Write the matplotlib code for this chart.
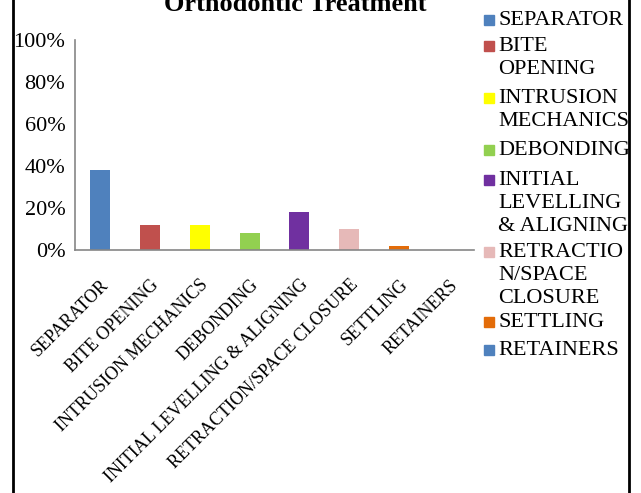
import matplotlib.pyplot as plt
from matplotlib.ticker import PercentFormatter
from matplotlib.lines import Line2D

categories = ["SEPARATOR", "BITE OPENING", "INTRUSION MECHANICS", "DEBONDING",
              "INITIAL LEVELLING & ALIGNING", "RETRACTION/SPACE CLOSURE",
              "SETTLING", "RETAINERS"]
values = [0.38, 0.12, 0.12, 0.08, 0.18, 0.10, 0.02, 0.0]
legend_labels = ["SEPARATOR", "BITE\nOPENING", "INTRUSION\nMECHANICS", "DEBONDING",
                 "INITIAL\nLEVELLING\n& ALIGNING", "RETRACTIO\nN/SPACE\nCLOSURE",
                 "SETTLING", "RETAINERS"]
colors = ["#4F81BD", "#C0504D", "#FFFF00", "#92D050", "#7030A0", "#E6B9B8",
          "#E36C09", "#4F81BD"]
# pixel rows (from top) of the first line of each legend entry
legend_rows = [20, 46, 98, 150, 180, 252, 322, 350]

plt.rcParams['font.family'] = ['Liberation Serif', 'DejaVu Serif']

W, H = 641, 493
fig = plt.figure(figsize=(W / 100, H / 100), dpi=100)
ax = fig.add_axes([75 / W, 1 - 250 / H, (474 - 75) / W, (250 - 40) / H])

x = range(len(categories))
ax.bar(x, values, width=0.4, color=colors)
ax.set_xlim(-0.5, len(categories) - 0.5)
ax.set_ylim(0, 1)
ax.set_yticks([0, 0.2, 0.4, 0.6, 0.8, 1.0])
ax.yaxis.set_major_formatter(PercentFormatter(1.0, decimals=0))
ax.tick_params(axis='y', length=0, pad=7, labelsize=16)
ax.tick_params(axis='x', length=0, pad=19)
ax.set_xticks(list(x))
ax.set_xticklabels(categories, rotation=45, ha='right', va='top',
                   rotation_mode='anchor', fontsize=13)
for s in ['top', 'right']:
    ax.spines[s].set_visible(False)
for s in ['left', 'bottom']:
    ax.spines[s].set_color('#868686')
    ax.spines[s].set_linewidth(1.2)

# title (cut off at the top in the original)
fig.text(295 / W, 1 - 11 / H, "Orthodontic Treatment", ha='center', va='baseline',
         fontsize=19, fontweight='bold')

# legend drawn by hand so the marker sits at the first line
for lab, c, row in zip(legend_labels, colors, legend_rows):
    fig.text(498 / W, 1 - (row - 9) / H, lab, ha='left', va='top', fontsize=16,
             linespacing=1.28)
    fig.patches.append(plt.Rectangle((484 / W, 1 - (row + 5) / H), 10 / W, 10 / H,
                                     transform=fig.transFigure, color=c))

# outer frame lines
fig.add_artist(Line2D([13 / W, 13 / W], [0, 1], color='black', lw=2))
fig.add_artist(Line2D([629 / W, 629 / W], [0, 1], color='black', lw=2))

fig.savefig("out.png", dpi=100)
